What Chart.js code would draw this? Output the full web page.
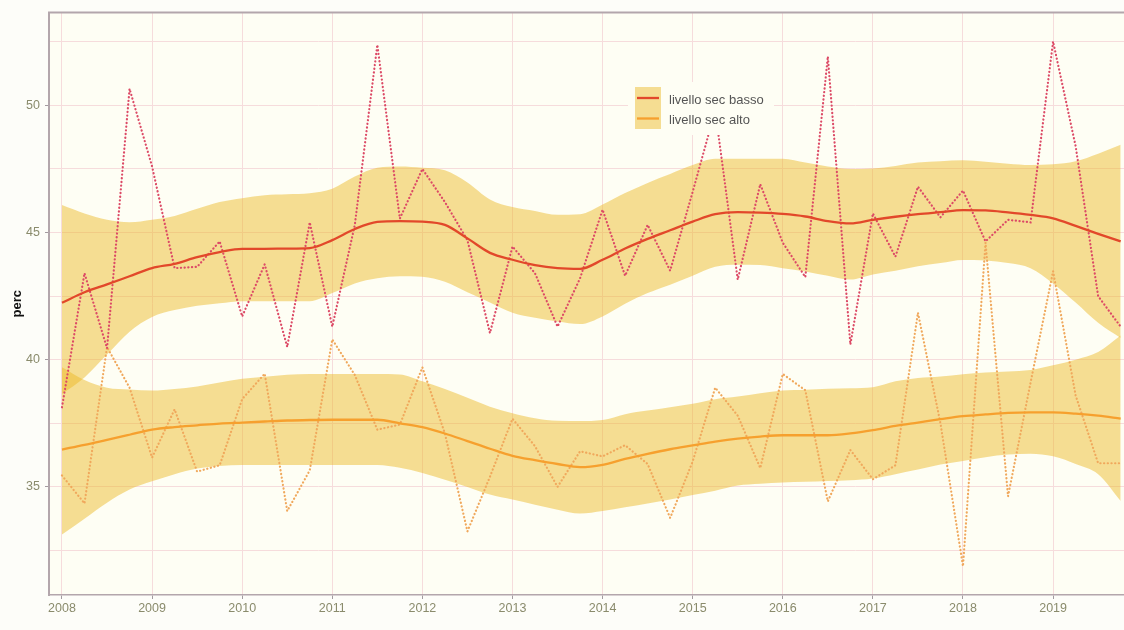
<!DOCTYPE html>
<html>
<head>
<meta charset="utf-8">
<script src="https://cdn.jsdelivr.net/npm/chart.js@4.4.1/dist/chart.umd.min.js"></script>
<style>
  html, body { margin: 0; padding: 0; background: #fdfdf9; }
  canvas { display: block; }
</style>
</head>
<body>
<canvas id="chart" width="1124" height="630"></canvas>
<script>
// Quarterly observation dates (decimal years)
const quarters = [
  2008.00, 2008.25, 2008.50, 2008.75, 2009.00, 2009.25, 2009.50, 2009.75,
  2010.00, 2010.25, 2010.50, 2010.75, 2011.00, 2011.25, 2011.50, 2011.75,
  2012.00, 2012.25, 2012.50, 2012.75, 2013.00, 2013.25, 2013.50, 2013.75,
  2014.00, 2014.25, 2014.50, 2014.75, 2015.00, 2015.25, 2015.50, 2015.75,
  2016.00, 2016.25, 2016.50, 2016.75, 2017.00, 2017.25, 2017.50, 2017.75,
  2018.00, 2018.25, 2018.50, 2018.75, 2019.00, 2019.25, 2019.50, 2019.75
];

// Observed percentages
const bassoRaw = [
  38.13, 43.40, 40.45, 50.65, 47.60, 43.60, 43.65, 44.65,
  41.70, 43.75, 40.50, 45.40, 41.30, 45.30, 52.38, 45.55,
  47.50, 46.20, 44.70, 41.05, 44.45, 43.40, 41.30, 43.20,
  45.90, 43.30, 45.30, 43.50, 46.60, 49.80, 43.15, 46.90,
  44.60, 43.25, 51.92, 40.60, 45.75, 44.05, 46.80, 45.60,
  46.65, 44.65, 45.50, 45.40, 52.51, 48.40, 42.50, 41.30
];
const altoRaw = [
  35.45, 34.35, 40.50, 38.90, 36.15, 38.05, 35.60, 35.85,
  38.45, 39.45, 34.05, 35.65, 40.80, 39.40, 37.25, 37.45,
  39.70, 37.10, 33.25, 35.40, 37.68, 36.60, 35.00, 36.40,
  36.20, 36.64, 35.90, 33.78, 36.00, 38.90, 37.80, 35.74,
  39.44, 38.80, 34.43, 36.45, 35.30, 35.85, 41.85, 37.50,
  31.88, 44.60, 34.63, 39.10, 43.48, 38.60, 35.93, 35.93
];

// Smoothed trend and confidence band, "livello sec basso"
const bassoFit = [
  42.24, 42.65, 42.96, 43.28, 43.60, 43.77, 44.03, 44.23,
  44.36, 44.36, 44.37, 44.39, 44.70, 45.14, 45.42, 45.45,
  45.43, 45.30, 44.77, 44.20, 43.93, 43.72, 43.60, 43.57,
  43.93, 44.37, 44.75, 45.09, 45.43, 45.72, 45.80, 45.78,
  45.73, 45.63, 45.45, 45.36, 45.50, 45.62, 45.72, 45.80,
  45.88, 45.87, 45.79, 45.69, 45.56, 45.26, 44.95, 44.65
];
const bassoHi = [
  46.08, 45.75, 45.50, 45.40, 45.50, 45.65, 45.93, 46.20,
  46.35, 46.47, 46.50, 46.54, 46.72, 47.20, 47.55, 47.60,
  47.55, 47.45, 46.97, 46.30, 46.00, 45.85, 45.70, 45.72,
  46.10, 46.55, 46.95, 47.30, 47.65, 47.90, 47.90, 47.90,
  47.90, 47.75, 47.60, 47.50, 47.52, 47.62, 47.75, 47.80,
  47.84, 47.78, 47.70, 47.65, 47.68, 47.80, 48.10, 48.45
];
const bassoLo = [
  38.65, 39.30, 40.20, 41.10, 41.68, 41.95, 42.12, 42.22,
  42.30, 42.30, 42.30, 42.30, 42.62, 43.00, 43.20, 43.28,
  43.26, 43.06, 42.65, 42.25, 41.85, 41.65, 41.50, 41.40,
  41.70, 42.20, 42.62, 42.95, 43.30, 43.65, 43.73, 43.72,
  43.60, 43.47, 43.30, 43.15, 43.35, 43.50, 43.67, 43.80,
  43.92, 43.90, 43.80, 43.60, 43.00, 42.25, 41.45, 40.85
];

// Smoothed trend and confidence band, "livello sec alto"
const altoFit = [
  36.47, 36.65, 36.85, 37.05, 37.25, 37.35, 37.42, 37.49,
  37.53, 37.57, 37.61, 37.63, 37.64, 37.64, 37.64, 37.50,
  37.35, 37.10, 36.80, 36.50, 36.22, 36.05, 35.90, 35.78,
  35.87, 36.10, 36.30, 36.48, 36.63, 36.78, 36.90, 36.98,
  37.03, 37.03, 37.03, 37.10, 37.23, 37.40, 37.53, 37.66,
  37.78, 37.85, 37.91, 37.93, 37.93, 37.88, 37.80, 37.68
];
const altoHi = [
  39.70, 39.20, 38.90, 38.83, 38.79, 38.85, 38.95, 39.10,
  39.25, 39.33, 39.41, 39.44, 39.44, 39.44, 39.44, 39.42,
  39.15, 38.85, 38.50, 38.15, 37.90, 37.70, 37.60, 37.59,
  37.63, 37.86, 38.00, 38.13, 38.27, 38.45, 38.55, 38.68,
  38.79, 38.82, 38.86, 38.88, 38.92, 39.15, 39.28, 39.34,
  39.43, 39.50, 39.54, 39.60, 39.78, 40.00, 40.30, 40.95
];
const altoLo = [
  33.13, 33.75, 34.38, 34.90, 35.22, 35.50, 35.72, 35.82,
  35.86, 35.86, 35.86, 35.86, 35.86, 35.86, 35.86, 35.75,
  35.55, 35.28, 35.00, 34.70, 34.50, 34.30, 34.10, 33.95,
  34.05, 34.20, 34.35, 34.50, 34.68, 34.85, 35.05, 35.12,
  35.17, 35.20, 35.23, 35.26, 35.33, 35.50, 35.68, 35.88,
  36.02, 36.17, 36.27, 36.30, 36.20, 35.90, 35.50, 34.45
];

// Axis ticks
const yearTicks = [2008, 2009, 2010, 2011, 2012, 2013, 2014, 2015, 2016, 2017, 2018, 2019];
const yGridValues = [32.5, 35, 37.5, 40, 42.5, 45, 47.5, 50, 52.5];
const yLabelled = [35, 40, 45, 50];
const seriesNames = ['livello sec basso', 'livello sec alto'];

// Styling
const FONT = '"Liberation Sans", Arial, Helvetica, sans-serif';
const PAGE_BG = '#fdfdf9';
const PANEL_BG = '#fefef4';
const GRID = '#f6dcdc';
const FRAME = '#b3a6ac';
const TICK_TEXT = '#8a8b6c';
const BAND = 'rgba(236, 182, 30, 0.46)';
const RED_LINE = '#e2482a';
const ORANGE_LINE = '#f6a02e';
const RED_DOTS = '#dc4a66';
const ORANGE_DOTS = '#f0a85c';

const pts = ys => quarters.map((x, i) => ({ x: x, y: ys[i] }));

const bandStyle = {
  borderWidth: 0,
  pointRadius: 0,
  backgroundColor: BAND,
  cubicInterpolationMode: 'monotone',
  order: 3
};
const dottedStyle = color => ({
  borderColor: color,
  borderWidth: 2.2,
  borderDash: [0.2, 3.5],
  borderCapStyle: 'round',
  pointRadius: 0,
  tension: 0,
  fill: false,
  order: 2
});
const fitStyle = color => ({
  borderColor: color,
  borderWidth: 2.3,
  pointRadius: 0,
  cubicInterpolationMode: 'monotone',
  fill: false,
  order: 1
});

// Panel background drawn under everything
const panelBackground = {
  id: 'panelBackground',
  beforeDraw(chart) {
    const { ctx, chartArea: a } = chart;
    ctx.save();
    ctx.fillStyle = PAGE_BG;
    ctx.fillRect(0, 0, chart.width, chart.height);
    ctx.fillStyle = PANEL_BG;
    ctx.fillRect(a.left, a.top, a.right - a.left, a.bottom - a.top);
    ctx.restore();
  }
};

// Legend placed inside the panel, on an opaque box over the data
const insetLegend = {
  id: 'insetLegend',
  afterDatasetsDraw(chart, args, opts) {
    const ctx = chart.ctx;
    const x = opts.x, y = opts.y;
    ctx.save();
    ctx.fillStyle = PANEL_BG;
    ctx.fillRect(x - 7, y - 5, 146, 53);
    ctx.fillStyle = BAND;
    ctx.fillRect(x, y, 26, 42);
    const colors = [RED_LINE, ORANGE_LINE];
    ctx.lineWidth = 2.3;
    seriesNames.forEach((name, i) => {
      const ly = y + 11 + i * 20.5;
      ctx.strokeStyle = colors[i];
      ctx.beginPath();
      ctx.moveTo(x + 2, ly);
      ctx.lineTo(x + 24, ly);
      ctx.stroke();
      ctx.fillStyle = '#555555';
      ctx.font = '13px ' + FONT;
      ctx.textBaseline = 'alphabetic';
      ctx.textAlign = 'left';
      ctx.fillText(name, x + 34, ly + 5.5);
    });
    ctx.restore();
  }
};

// Top edge of the panel frame
const topFrame = {
  id: 'topFrame',
  afterDraw(chart) {
    const { ctx, chartArea: a } = chart;
    ctx.save();
    ctx.strokeStyle = FRAME;
    ctx.lineWidth = 2;
    ctx.beginPath();
    ctx.moveTo(a.left - 1, a.top);
    ctx.lineTo(a.right, a.top);
    ctx.stroke();
    ctx.restore();
  }
};

new Chart(document.getElementById('chart'), {
  type: 'line',
  data: {
    datasets: [
      Object.assign({ label: 'alto hi', data: pts(altoHi), fill: '+1' }, bandStyle),
      Object.assign({ label: 'alto lo', data: pts(altoLo), fill: false }, bandStyle),
      Object.assign({ label: 'basso hi', data: pts(bassoHi), fill: '+1' }, bandStyle),
      Object.assign({ label: 'basso lo', data: pts(bassoLo), fill: false }, bandStyle),
      Object.assign({ label: seriesNames[0] + ' (dati)', data: pts(bassoRaw) }, dottedStyle(RED_DOTS)),
      Object.assign({ label: seriesNames[1] + ' (dati)', data: pts(altoRaw) }, dottedStyle(ORANGE_DOTS)),
      Object.assign({ label: seriesNames[0], data: pts(bassoFit) }, fitStyle(RED_LINE)),
      Object.assign({ label: seriesNames[1], data: pts(altoFit) }, fitStyle(ORANGE_LINE))
    ]
  },
  options: {
    responsive: false,
    animation: false,
    events: [],
    layout: { padding: { top: 11, right: 0, bottom: 0, left: 0 } },
    plugins: {
      legend: { display: false },
      tooltip: { enabled: false },
      insetLegend: { x: 635, y: 87 }
    },
    scales: {
      x: {
        type: 'linear',
        min: 2007.856,
        max: 2019.787,
        afterBuildTicks: s => { s.ticks = yearTicks.map(v => ({ value: v })); },
        afterFit: s => { s.height = 35; },
        grid: { color: GRID, lineWidth: 1, tickLength: 4, tickColor: '#a39aa0' },
        border: { display: true, color: FRAME, width: 1.5 },
        ticks: {
          color: TICK_TEXT,
          font: { family: FONT, size: 12.5 },
          padding: 2,
          maxRotation: 0,
          autoSkip: false,
          callback: v => String(v)
        }
      },
      y: {
        type: 'linear',
        min: 30.75,
        max: 53.65,
        afterBuildTicks: s => { s.ticks = yGridValues.map(v => ({ value: v })); },
        afterFit: s => { s.width = 49; },
        grid: {
          color: GRID,
          lineWidth: 1,
          tickLength: 4,
          tickColor: c => (c.tick && yLabelled.includes(c.tick.value)) ? '#a39aa0' : 'rgba(0,0,0,0)'
        },
        border: { display: true, color: FRAME, width: 2 },
        ticks: {
          color: TICK_TEXT,
          font: { family: FONT, size: 12.5 },
          padding: 5,
          autoSkip: false,
          callback: v => yLabelled.includes(v) ? String(v) : ''
        },
        title: {
          display: true,
          text: 'perc',
          color: '#111111',
          font: { family: FONT, size: 13, weight: 'bold' },
          padding: { top: 10, bottom: 0 }
        }
      }
    }
  },
  plugins: [panelBackground, insetLegend, topFrame]
});
</script>
</body>
</html>
